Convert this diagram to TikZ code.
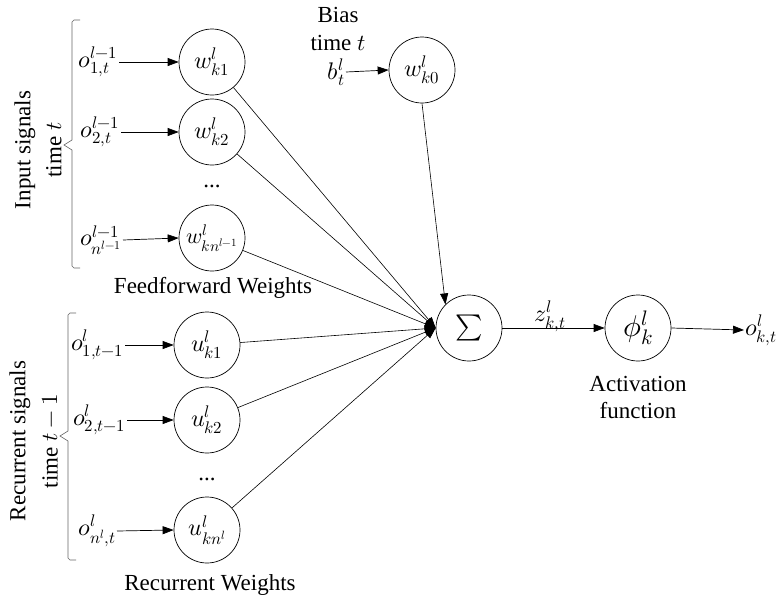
\documentclass[tikz,border=0pt]{standalone}
\usepackage{fontspec}
\usepackage{unicode-math}
\setmainfont{Liberation Serif}
\setmathfont{Latin Modern Math}
\usetikzlibrary{arrows.meta}
\begin{document}
\begin{tikzpicture}[x=1pt,y=-1pt,
  wnode/.style={draw,circle,minimum size=66pt,inner sep=0pt,line width=0.7pt,font=\fontsize{24}{28}\selectfont},
  lbl/.style={inner sep=1pt,font=\fontsize{24}{28}\selectfont},
  txt/.style={inner sep=0pt,font=\fontsize{23}{27}\selectfont},
  arr/.style={-{Triangle[length=11pt,width=8pt]},line width=0.7pt},
  conn/.style={line width=0.6pt},
  brk/.style={line width=0.6pt,draw=black!60}]
\useasboundingbox (0,0) rectangle (784,600);
% feedforward weights
\node[wnode] (w1) at (212,62) {$w_{k1}^{l}$};
\node[wnode] (w2) at (212,132) {$w_{k2}^{l}$};
\node[txt] (wd) at (212,186) {...};
\node[wnode,font=\fontsize{22}{26}\selectfont] (wn) at (212,238) {$w_{kn^{l-1}}^{l}$};
% recurrent weights
\node[wnode] (u1) at (207,345) {$u_{k1}^{l}$};
\node[wnode] (u2) at (207,420) {$u_{k2}^{l}$};
\node[txt] (ud) at (207,479) {...};
\node[wnode] (un) at (207,530) {$u_{kn^{l}}^{l}$};
% bias
\node[wnode] (w0) at (422,70) {$w_{k0}^{l}$};
% sum and activation
\node[wnode,font=\fontsize{26}{30}\selectfont] (sum) at (469,328) {$\sum$};
\node[wnode,font=\fontsize{30}{34}\selectfont] (phi) at (638,328) {$\phi_{k}^{l}$};
% inputs
\node[lbl,anchor=east] (x1) at (119,62) {$o_{1,t}^{l-1}$};
\node[lbl,anchor=east] (x2) at (121,132) {$o_{2,t}^{l-1}$};
\node[lbl,anchor=east] (xn) at (123,240) {$o_{n^{l-1}}^{l-1}$};
\node[lbl,anchor=east] (r1) at (125,345) {$o_{1,t-1}^{l}$};
\node[lbl,anchor=east] (r2) at (127,420) {$o_{2,t-1}^{l}$};
\node[lbl,anchor=east] (rn) at (117,531) {$o_{n^{l},t}^{l}$};
\node[lbl,anchor=east] (b) at (346,72) {$b_{t}^{l}$};
\node[lbl,anchor=west] (out) at (744,330) {$o_{k,t}^{l}$};
\node[lbl] (z) at (550,316) {$z_{k,t}^{l}$};
% texts
\node[txt] (bias1) at (338,15) {Bias};
\node[txt] (bias2) at (338,43) {time $t$};
\node[txt] (ffw) at (213,288) {Feedforward Weights};
\node[txt] (rw) at (210,585) {Recurrent Weights};
\node[txt] (act1) at (638,384) {Activation};
\node[txt] (act2) at (638,411) {function};
\node[txt,rotate=90] (in1) at (25,150) {Input signals};
\node[txt,rotate=90] (in2) at (54,150) {time $t$};
\node[txt,rotate=90] (rc1) at (20,441) {Recurrent signals};
\node[txt,rotate=90] (rc2) at (50,441) {time $t-1$};
% brackets
\draw[brk] (80,20) -- (74,20) -- (72,22) -- (72,140) -- (64,145) -- (72,150) -- (72,266) -- (74,268) -- (80,268);
\draw[brk] (76,313) -- (70,313) -- (68,315) -- (68,431) -- (60,436) -- (68,441) -- (68,558) -- (70,560) -- (76,560);
% input arrows
\draw[arr] (x1.east) -- (w1.west);
\draw[arr] (x2.east) -- (w2.west);
\draw[arr] (xn.east) -- (wn.west);
\draw[arr] (r1.east) -- (u1.west);
\draw[arr] (r2.east) -- (u2.west);
\draw[arr] (rn.east) -- (un.west);
\draw[arr] (b.east) -- (w0.west);
% connections to sum
\foreach \n in {w1,w2,wn,u1,u2,un}{
  \draw[arr,conn] (\n) -- (sum.west);
}
\draw[arr,conn] (w0.south) -- (sum.north west);
\draw[arr] (sum.east) -- (phi.west);
\draw[arr] (phi.east) -- (out.west);
\end{tikzpicture}
\end{document}
